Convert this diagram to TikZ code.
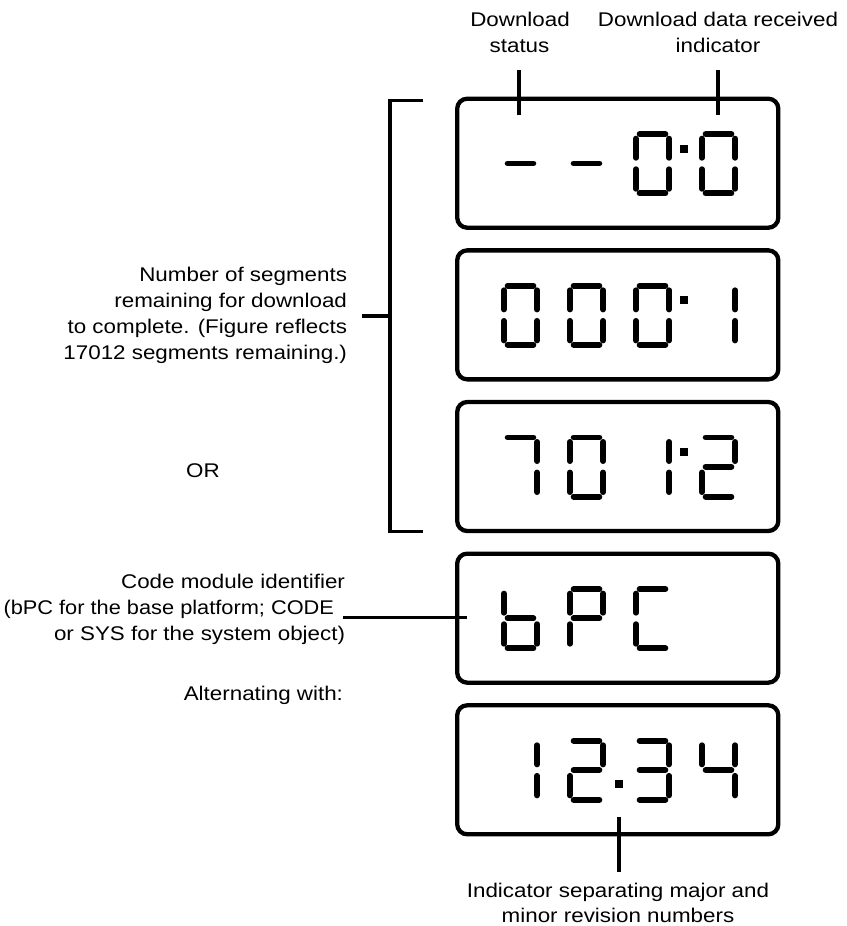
\documentclass[tikz,border=0pt]{standalone}
\usepackage{fontspec}
\setmainfont[FakeStretch=1.13]{Liberation Sans}
\newfontfamily\narrowsans[FakeStretch=1.10]{Liberation Sans}
\newcommand\dseg[1]{%
  \if a#1\draw[seg] (6.6,2.9) -- (32.4,2.9);\fi
  \if b#1\draw[seg] (36.1,7.4) -- (36.1,26.6);\fi
  \if c#1\draw[seg] (36.1,38.0) -- (36.1,57.6);\fi
  \if d#1\draw[seg] (6.6,62.1) -- (32.4,62.1);\fi
  \if e#1\draw[seg] (2.9,38.0) -- (2.9,57.6);\fi
  \if f#1\draw[seg] (2.9,7.4) -- (2.9,26.6);\fi
  \if g#1\draw[seg] (6.6,32.2) -- (32.4,32.2);\fi
}
\newcommand\lcddigit[3]{\begin{scope}[shift={(#1,#2)}]\foreach \s in {#3}{\dseg{\s}}\end{scope}}
\begin{document}
\begin{tikzpicture}[x=1pt,y=-1pt,
  lbl/.style={font=\fontsize{19.8}{25.7}\selectfont, inner sep=0pt, outer sep=0pt},
  lcd/.style={draw, line width=4.3pt, rounded corners=10pt, minimum width=321.1pt, minimum height=129pt, inner sep=0pt, outer sep=0pt, anchor=north west},
  lead/.style={line width=3.5pt},
  seg/.style={line width=5.8pt, line cap=round},
  dotsq/.style={fill, minimum size=8pt, inner sep=0pt, outer sep=0pt}]
\useasboundingbox (0,0) rectangle (846,926);

% LCD frames
\node[lcd] (box1) at (457.2,98.7) {};
\node[lcd] (box2) at (457.2,250.35) {};
\node[lcd] (box3) at (457.2,402) {};
\node[lcd] (box4) at (457.2,553.65) {};
\node[lcd] (box5) at (457.2,705.3) {};

% box 1:  - - 0:0
\lcddigit{501}{131.2}{g}
\lcddigit{567}{131.2}{g}
\lcddigit{633}{131.2}{a,b,c,d,e,f}
\lcddigit{699}{131.2}{a,b,c,d,e,f}
\node[dotsq] (dot1) at (684.3,148.5) {};

% box 2:  0 0 0:1
\lcddigit{501}{282.85}{a,b,c,d,e,f}
\lcddigit{567}{282.85}{a,b,c,d,e,f}
\lcddigit{633}{282.85}{a,b,c,d,e,f}
\lcddigit{699}{282.85}{b,c}
\node[dotsq] (dot2) at (684.3,300.2) {};

% box 3:  7 0 1:2
\lcddigit{501}{434.5}{a,b,c}
\lcddigit{567}{434.5}{a,b,c,d,e,f}
\lcddigit{633}{434.5}{b,c}
\lcddigit{699}{434.5}{a,b,g,e,d}
\node[dotsq] (dot3) at (684.3,451.8) {};

% box 4:  b P C
\lcddigit{501}{586.15}{c,d,e,f,g}
\lcddigit{567}{586.15}{a,b,e,f,g}
\lcddigit{633}{586.15}{a,d,e,f}

% box 5:  1 2 . 3 4
\lcddigit{501}{737.8}{b,c}
\lcddigit{567}{737.8}{a,b,g,e,d}
\node[dotsq] (dot5) at (618.5,784) {};
\lcddigit{633}{737.8}{a,b,g,c,d}
\lcddigit{699}{737.8}{f,g,b,c}

% top labels
\node[lbl, anchor=base] (dl1) at (520,26.5) {Download};
\node[lbl, anchor=base] (dl2) at (519.5,52) {status};
\node[lbl, anchor=base] (dr1) at (718,26.5) {Download data received};
\node[lbl, anchor=base] (dr2) at (718,52) {indicator};
\coordinate (st1) at (519,70);
\coordinate (st2) at (519,115);
\coordinate (in1) at (718,70);
\coordinate (in2) at (718,115);
\draw[lead] (st1) -- (st2);
\draw[lead] (in1) -- (in2);

% segments label + bracket
\node[lbl, anchor=base east] (n1) at (347,281.7) {Number of segments};
\node[lbl, anchor=base east] (n2) at (347,307.3) {remaining for download};
\node[lbl, anchor=base east] (n3) at (347,333.3) {to complete. (Figure reflects};
\node[lbl, anchor=base east] (n4) at (347,359.3) {17012 segments remaining.)};
\coordinate (brA) at (423,100.7);
\coordinate (brB) at (390,100.7);
\coordinate (brC) at (390,531.3);
\coordinate (brD) at (423,531.3);
\coordinate (brL) at (362,316);
\coordinate (brM) at (390,316);
\draw[lead] (brA) -- (brB) -- (brC) -- (brD);
\draw[lead] (brL) -- (brM);

\node[lbl, anchor=base] (or) at (203,477) {OR};

% code module label
\node[lbl, anchor=base east] (c1) at (345,588) {Code module identifier};
\node[lbl, anchor=base east] (c2) at (334,614) {\narrowsans (bPC for the base platform; CODE};
\node[lbl, anchor=base east] (c3) at (345,640) {or SYS for the system object)};
\coordinate (cdA) at (343,617.5);
\coordinate (cdB) at (467,617.5);
\draw[lead] (cdA) -- (cdB);

\node[lbl, anchor=base east] (alt) at (343,700) {Alternating with:};

% bottom label
\coordinate (bt1) at (619,817);
\coordinate (bt2) at (619,872);
\draw[lead] (bt1) -- (bt2);
\node[lbl, anchor=base] (b1) at (618,897) {Indicator separating major and};
\node[lbl, anchor=base] (b2) at (618,922) {minor revision numbers};
\end{tikzpicture}
\end{document}
